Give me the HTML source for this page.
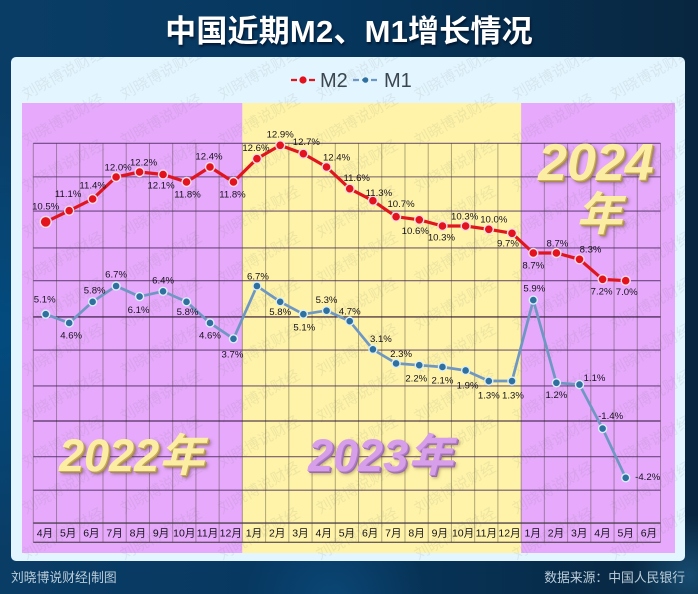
<!DOCTYPE html>
<html lang="zh">
<head>
<meta charset="utf-8">
<title>中国近期M2、M1增长情况</title>
<style>
html,body{margin:0;padding:0}
body{width:698px;height:594px;overflow:hidden;position:relative;font-family:"Liberation Sans","Noto Sans CJK SC",sans-serif;
background:
 radial-gradient(circle at 335px 600px,rgba(20,100,160,.35),transparent 90px),
 radial-gradient(circle at 690px 575px,rgba(40,120,170,.45),transparent 60px),
 radial-gradient(circle at 0px 330px,rgba(0,80,135,.75),transparent 220px),
 linear-gradient(90deg,#0a3d66 0%,#06375f 45%,#08263f 100%);}
#title{position:absolute;left:0;top:11px;width:698px;text-align:center;color:#fff;font-weight:700;font-size:31px;letter-spacing:.2px;line-height:42px;text-shadow:1px 2px 2px rgba(0,10,30,.7);white-space:nowrap;font-family:"Liberation Sans","Noto Sans CJK SC",sans-serif}
#panel{position:absolute;left:11px;top:57px;width:674px;height:504px;background:#e3f5fe;border-radius:5px}
#chart{position:absolute;left:0;top:0}
.year{position:absolute;font-weight:700;font-style:italic;white-space:nowrap;font-family:"Liberation Sans","Noto Sans CJK SC",sans-serif;line-height:1}
.gold{color:#fbeea2;text-shadow:1px 1px 0 #c9a95c,2px 2px 0 #a98c52,3px 3px 3px rgba(90,60,60,.55)}
.violet{color:#d79fe9;text-shadow:1px 1px 0 #b07cc4,2px 2px 0 #9a6cae,3px 3px 3px rgba(120,90,60,.5)}
.foot{position:absolute;top:569px;font-size:12.8px;line-height:17px;color:#bccdd9;white-space:nowrap}
</style>
</head>
<body>
<div id="title">中国近期M2、M1增长情况</div>
<div id="panel"></div>
<svg id="chart" width="698" height="594" viewBox="0 0 698 594" xmlns="http://www.w3.org/2000/svg"></svg>
<div class="year gold" style="left:59px;top:433px;font-size:45px">2022年</div>
<div class="year violet" style="left:308px;top:433px;font-size:45px">2023年</div>
<div class="year gold" style="left:538px;top:137px;font-size:52px">2024</div>
<div class="year gold" style="left:576px;top:191px;font-size:46px">年</div>
<div class="foot" style="left:11px">刘晓博说财经|制图</div>
<div class="foot" style="right:13px">数据来源：中国人民银行</div>
<script>
const categories = ['4月','5月','6月','7月','8月','9月','10月','11月','12月','1月','2月','3月','4月','5月','6月','7月','8月','9月','10月','11月','12月','1月','2月','3月','4月','5月','6月'];
const m2Values = [10.5,11.1,11.4,12.0,12.2,12.1,11.8,12.4,11.8,12.6,12.9,12.7,12.4,11.6,11.3,10.7,10.6,10.3,10.3,10.0,9.7,8.7,8.7,8.3,7.2,7.0];
const m1Values = [5.1,4.6,5.8,6.7,6.1,6.4,5.8,4.6,3.7,6.7,5.8,5.1,5.3,4.7,3.1,2.3,2.2,2.1,1.9,1.3,1.3,5.9,1.2,1.1,-1.4,-4.2];
const gridTicks = [14.81,12.9,10.96,8.86,7.0,4.94,3.06,1.02,-0.97,-3.0,-4.9,-6.77];

/* Label placement relative to each point (layout only, not data) */
const m2LabelDx = [0,-1,0,2,4,-2,1,-1,-1,-1,0,3,10,7,6,5,-4,-1,-1,5,-4,0,1,11,-1,1];
const m2LabelDy = [-16,-17,-14,-10,-10,10.5,12,-11,12,-11,-11,-12,-10,-11,-8,-13,11,11,-10,-10,10,12,-10,-10,12,11];
const m1LabelDx = [-1,2,2,0,-1,0,1,0,-1,1,0,1,0,0,8,5,-3,0,2,0,1,1,0,15,8,22];
const m1LabelDy = [-15,12,-11.5,-12,13,-11,10,12,15.5,-10,10,13,-11,-10,-11,-10,13,13,14.5,14,14,-12,12,-7,-13,-1];

/* The source graphic draws M2 on a non-linear scale: value -> y anchor pairs */
const m2AxisDomain = [7.0,7.2,8.3,8.7,9.7,10.0,10.3,10.6,10.7,11.1,11.3,11.4,11.6,11.8,12.0,12.2,12.4,12.6,12.7,12.9];
const m2AxisRange = [280.7,279.3,259.3,253,233.3,229.3,226,219.8,216.7,210.7,200.7,199,188.7,182,177,172,167,158.7,153.7,145.3];

const SVGNS = 'http://www.w3.org/2000/svg';
const svg = document.getElementById('chart');

function xBand(i){ return 33.3 + 23.23 * i; }
function xCenter(i){ return xBand(i) + 11.6; }
function xPoint(i){
  if (i <= 9) return 45.7 + 23.47 * i;
  if (i <= 20) return 257 + 23.18 * (i - 9);
  return 533.3 + 23.1 * (i - 21);
}
function yM1(v){ return 286 + (6.7 - v) * 17.6; }
function yM2(v){
  const d = m2AxisDomain, r = m2AxisRange;
  let k = 0;
  while (k < d.length - 2 && v > d[k + 1]) k++;
  return r[k] + (v - d[k]) * (r[k + 1] - r[k]) / (d[k + 1] - d[k]);
}
function make(tag, attrs, parent){
  const el = document.createElementNS(SVGNS, tag);
  for (const k in attrs) el.setAttribute(k, attrs[k]);
  (parent || svg).appendChild(el);
  return el;
}

/* Background bands */
const bandA = make('rect',{x:22,y:103,width:xBand(9)-22,height:450,fill:'#e6a9fb'});


const bandB = make('rect',{x:xBand(9),y:103,width:xBand(21)-xBand(9),height:450,fill:'#fef3a8'});


const bandC = make('rect',{x:xBand(21),y:103,width:675-xBand(21),height:450,fill:'#e6a9fb'});



/* Watermarks */
const defs = make('defs',{});
const clip = make('clipPath',{id:'panel-clip'},defs);
make('rect',{x:11,y:57,width:674,height:504,rx:5},clip);
const wmGroup = make('g',{'clip-path':'url(#panel-clip)'});


for (let row = 0; row < 11; row++){
  for (let col = 0; col < 8; col++){
    const wx = 26 + col * 98;
    const wy = 100 + row * 46;
    const wm = make('text',{x:wx,y:wy,transform:'rotate(-29 '+wx+' '+wy+')','font-size':15,fill:'rgba(120,120,130,.11)'},wmGroup);
    
    
    wm.textContent = '刘晓博说财经';
  }
}

/* Grid */
const gridGroup = make('g',{});


const left = xBand(0), right = xBand(categories.length), axisBottom = 542.3;
for (let i = 0; i <= categories.length; i++){
  const v = make('line',{x1:xBand(i),x2:xBand(i),y1:yM1(gridTicks[0]),y2:axisBottom,stroke:'rgba(70,60,50,.42)','stroke-width':1},gridGroup);
  
  
}
gridTicks.forEach(function(t, i){
  const strong = (i === 5 || i === 8);
  const isAxis = (i === gridTicks.length - 1);
  const h = make('line',{x1:left,x2:right,y1:yM1(t),y2:yM1(t),stroke:strong?'rgba(35,10,45,.95)':(isAxis?'rgba(70,60,70,.8)':'rgba(70,40,90,.75)'),'stroke-width':isAxis?1.6:1.1},gridGroup);
  
  
});
const bottomAxis = make('line',{x1:left,x2:right,y1:axisBottom,y2:axisBottom,stroke:'rgba(70,60,70,.8)','stroke-width':1.4},gridGroup);



/* Category labels */
categories.forEach(function(c, i){
  const t = make('text',{x:xCenter(i),y:536.5,'text-anchor':'middle','font-size':10.5,fill:'#14111a'});
  
  
  t.textContent = c;
});

/* Series */
function drawSeries(values, yFn, cfg, dx, dy){
  const g = make('g',{});
  
  
  const pts = values.map(function(v, i){ return xPoint(i).toFixed(1) + ',' + yFn(v).toFixed(1); }).join(' ');
  const line = make('polyline',{points:pts,fill:'none',stroke:cfg.line,'stroke-width':cfg.width,'stroke-linejoin':'round','stroke-linecap':'round'},g);
  
  
  values.forEach(function(v, i){
    const c = make('circle',{cx:xPoint(i),cy:yFn(v),r:(cfg.first && i === 0) ? cfg.r + 1 : cfg.r,fill:cfg.dot,stroke:cfg.halo,'stroke-width':1.4},g);
    
    
  });
  values.forEach(function(v, i){
    const t = make('text',{x:xPoint(i)+dx[i],y:yFn(v)+dy[i]+3.4,'text-anchor':'middle','font-size':9.6,fill:'#17121f'},g);
    
    
    t.textContent = v.toFixed(1) + '%';
  });
}
drawSeries(m1Values, yM1, {name:'m1-series',line:'#6f97c3',dot:'#2f709f',halo:'#d9eef7',width:2.7,r:4}, m1LabelDx, m1LabelDy);
drawSeries(m2Values, yM2, {name:'m2-series',line:'#e0161f',dot:'#e3121d',halo:'#f3dbe6',width:3.2,r:4.5,first:true}, m2LabelDx, m2LabelDy);

/* Legend */
const legendG = make('g',{});


const lm2 = make('line',{x1:291,x2:315,y1:80,y2:80,stroke:'#e0161f','stroke-width':2.2,'stroke-dasharray':'6 3'},legendG);


const dm2 = make('circle',{cx:303,cy:80,r:3.6,fill:'#e3121d'},legendG);


const tm2 = make('text',{x:320,y:87,'font-size':20,fill:'#3b4650'},legendG);


tm2.textContent = 'M2';
const lm1 = make('line',{x1:353,x2:378,y1:80,y2:80,stroke:'#6f97c3','stroke-width':2.2,'stroke-dasharray':'6 3'},legendG);


const dm1 = make('circle',{cx:365.5,cy:80,r:2.8,fill:'#2f709f'},legendG);


const tm1 = make('text',{x:384,y:87,'font-size':20,fill:'#3b4650'},legendG);


tm1.textContent = 'M1';
</script>
</body>
</html>
